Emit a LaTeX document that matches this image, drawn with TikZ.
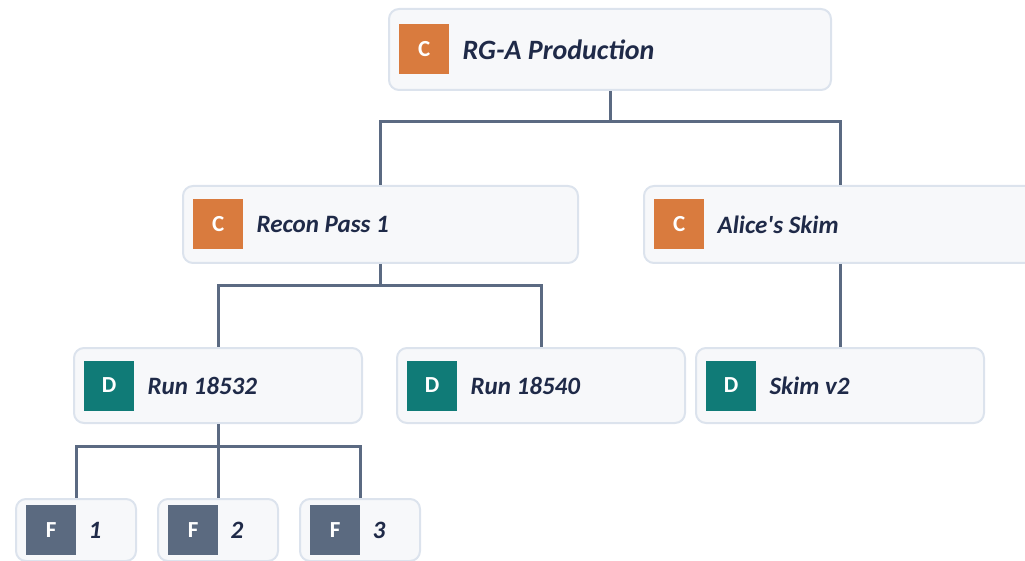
\documentclass[tikz,border=0pt]{standalone}
\usepackage{fontspec}
\setmainfont{Carlito}
\newfontfamily\plainfont{Carlito}[Ligatures=ResetAll]
\definecolor{boxfill}{HTML}{F7F8FA}
\definecolor{boxline}{HTML}{DCE3ED}
\definecolor{conncol}{HTML}{5B6A82}
\definecolor{corange}{HTML}{D97B3E}
\definecolor{dteal}{HTML}{107B77}
\definecolor{fslate}{HTML}{5B6A80}
\definecolor{txtcol}{HTML}{1F2A48}
\tikzset{
  x=1pt, y=-1pt,
  card/.style={draw=boxline, line width=2pt, fill=boxfill, rounded corners=10pt, inner sep=0pt, anchor=north west},
  icon/.style={inner sep=0pt, minimum width=50pt, minimum height=50pt, anchor=west, text=white, font=\fontsize{23}{23}\selectfont\bfseries},
  ctag/.style={icon, fill=corange},
  dtag/.style={icon, fill=dteal},
  ftag/.style={icon, fill=fslate},
  label/.style={inner sep=0pt, anchor=west, text=txtcol, font=\fontsize{25}{25}\selectfont\bfseries\itshape},
  conn/.style={draw=conncol, line width=3pt}
}
\begin{document}
\begin{tikzpicture}
\useasboundingbox (0,0) rectangle (1025,561);
\clip (0,0) rectangle (1025,561);
% row 1
\node[card, minimum width=442pt, minimum height=81pt] (root) at (388,8) {};
\node[ctag] (rooti) at ([xshift=11pt]root.west) {C};
\node[label, font=\fontsize{28}{28}\selectfont\bfseries\itshape] (roott) at ([xshift=13pt]rooti.east) {RG-A Production};
% row 2
\node[card, minimum width=395pt, minimum height=77pt] (recon) at (182,185) {};
\node[ctag] (reconi) at ([xshift=11pt]recon.west) {C};
\node[label] (recont) at ([xshift=13pt]reconi.east) {Recon Pass 1};
\node[card, minimum width=392pt, minimum height=77pt] (alice) at (643,185) {};
\node[ctag] (alicei) at ([xshift=11pt]alice.west) {C};
\node[label] (alicet) at ([xshift=13pt]alicei.east) {Alice{\plainfont\bfseries\itshape'}s Skim};
% row 3
\node[card, minimum width=288pt, minimum height=75pt] (runa) at (73,347) {};
\node[dtag] (runai) at ([xshift=11pt]runa.west) {D};
\node[label] (runat) at ([xshift=13pt]runai.east) {Run 18532};
\node[card, minimum width=288pt, minimum height=75pt] (runb) at (396,347) {};
\node[dtag] (runbi) at ([xshift=11pt]runb.west) {D};
\node[label] (runbt) at ([xshift=13pt]runbi.east) {Run 18540};
\node[card, minimum width=288pt, minimum height=75pt] (skim) at (695,347) {};
\node[dtag] (skimi) at ([xshift=11pt]skim.west) {D};
\node[label] (skimt) at ([xshift=13pt]skimi.east) {Skim v2};
% row 4
\node[card, minimum width=120pt, minimum height=62pt] (fa) at (15,498) {};
\node[ftag] (fai) at ([xshift=11pt]fa.west) {F};
\node[label] (fat) at ([xshift=12pt]fai.east) {1};
\node[card, minimum width=120pt, minimum height=62pt] (fb) at (157,498) {};
\node[ftag] (fbi) at ([xshift=11pt]fb.west) {F};
\node[label] (fbt) at ([xshift=12pt]fbi.east) {2};
\node[card, minimum width=120pt, minimum height=62pt] (fc) at (299,498) {};
\node[ftag] (fci) at ([xshift=11pt]fc.west) {F};
\node[label] (fct) at ([xshift=12pt]fci.east) {3};
% connectors
\draw[conn] (root.south) -- (root.south |- 0,122) -| (recon.north);
\draw[conn] (root.south |- 0,122) -| (alice.north);
\draw[conn] (recon.south) -- (recon.south |- 0,286) -| (runa.north);
\draw[conn] (recon.south |- 0,286) -| (runb.north);
\draw[conn] (alice.south) -- (skim.north);
\draw[conn] (runa.south) -- (fb.north);
\draw[conn] (runa.south |- 0,446) -| (fa.north);
\draw[conn] (runa.south |- 0,446) -| (fc.north);
\end{tikzpicture}
\end{document}
